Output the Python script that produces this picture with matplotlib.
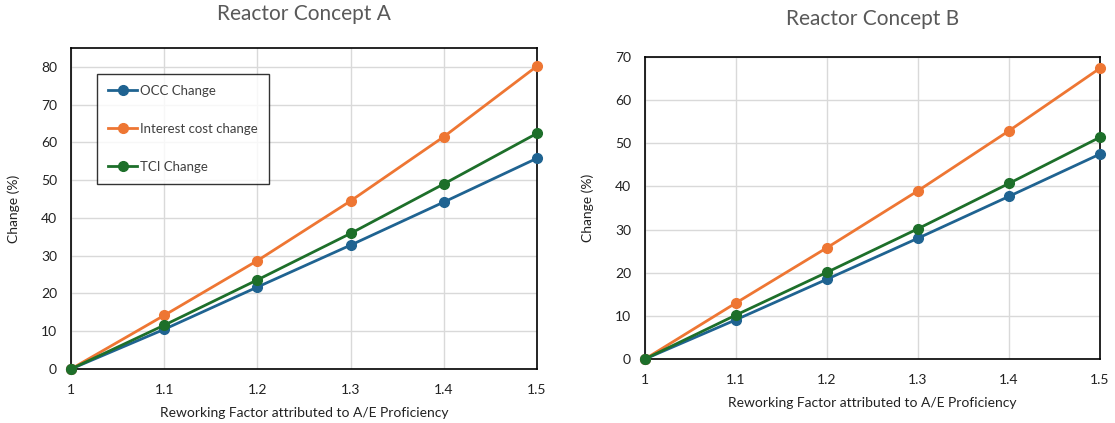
import matplotlib.pyplot as plt

plt.rcParams['font.family'] = ['Lato', 'DejaVu Sans']

factor = [1.0, 1.1, 1.2, 1.3, 1.4, 1.5]

# Reactor Concept A
occ_a = [0, 10.5, 21.7, 32.8, 44.2, 55.8]
interest_a = [0, 14.2, 28.7, 44.5, 61.5, 80.2]
tci_a = [0, 11.6, 23.6, 35.9, 49.0, 62.4]

# Reactor Concept B
occ_b = [0, 9.1, 18.5, 28.0, 37.7, 47.5]
interest_b = [0, 13.0, 25.8, 39.0, 52.9, 67.4]
tci_b = [0, 10.2, 20.1, 30.2, 40.7, 51.4]

labels = ["OCC Change", "Interest cost change", "TCI Change"]
colors = ["#1f6391", "#ee7633", "#1d6f2a"]

W, H = 1115, 423
fig = plt.figure(figsize=(W / 100, H / 100), dpi=100)

def box(x0, y0, x1, y1):
    return [x0 / W, 1 - y1 / H, (x1 - x0) / W, (y1 - y0) / H]

ax_a = fig.add_axes(box(71, 48, 537, 369))
ax_b = fig.add_axes(box(645, 57, 1100, 359))

panels = [
    (ax_a, [occ_a, interest_a, tci_a], 85, range(0, 81, 10)),
    (ax_b, [occ_b, interest_b, tci_b], 70, range(0, 71, 10)),
]

for ax, series, ymax, yticks in panels:
    for vals, lab, c in zip(series, labels, colors):
        ax.plot(factor, vals, color=c, lw=2, marker='o', ms=7, label=lab, clip_on=False, zorder=3)
    ax.set_xlim(1.0, 1.5)
    ax.set_ylim(0, ymax)
    ax.set_xticks(factor)
    ax.set_xticklabels(["1", "1.1", "1.2", "1.3", "1.4", "1.5"])
    ax.set_yticks(list(yticks))
    ax.grid(True, color="#d9d9d9", lw=1)
    ax.set_axisbelow(True)
    for s in ax.spines.values():
        s.set_color("black")
        s.set_linewidth(1.2)
    ax.tick_params(axis='x', length=0, labelsize=10, colors="#222222", pad=11)
    ax.tick_params(axis='y', length=0, labelsize=10, colors="#222222", pad=10)
    ax.set_xlabel("Reworking Factor attributed to A/E Proficiency", fontsize=10, color="#222222", labelpad=8)
    ax.set_ylabel("Change (%)", fontsize=10, color="#222222", labelpad=15)

ax_a.set_title("Reactor Concept A", fontsize=15, color="#595959", pad=20)
ax_b.set_title("Reactor Concept B", fontsize=15, color="#595959", pad=23)

leg = ax_a.legend(loc="upper left", bbox_to_anchor=(0.042, 0.94), fontsize=9.5, frameon=True,
                  fancybox=False, edgecolor="black", labelspacing=1.95, handlelength=2.2,
                  handletextpad=0.2, borderpad=0.85, labelcolor="#404040")
leg.get_frame().set_linewidth(1.0)

fig.savefig("out.png", dpi=100)
